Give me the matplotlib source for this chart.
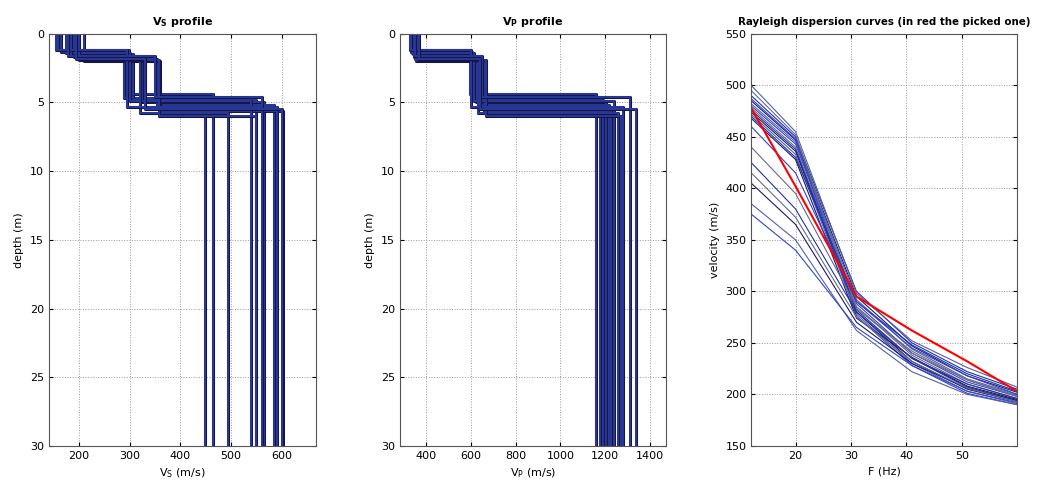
import numpy as np
import matplotlib.pyplot as plt

plt.rcParams['mathtext.default'] = 'regular'

# Layered models: interface depths (m) and velocities (m/s)
z1 = [1.2, 1.3, 1.5, 1.7, 1.8, 2.0, 1.4, 1.6, 1.9, 1.2, 1.6, 1.8]
z2 = [4.4, 4.7, 4.8, 5.0, 5.2, 5.6, 4.9, 5.8, 6.0, 5.3, 4.6, 5.5]
vs1 = [155, 165, 180, 190, 200, 210, 175, 185, 200, 160, 178, 195]
vs2 = [298, 290, 306, 325, 355, 360, 300, 320, 358, 295, 350, 330]
vs3 = [465, 448, 550, 564, 584, 602, 539, 493, 550, 590, 560, 600]
vp1 = [330, 335, 340, 345, 350, 355, 338, 348, 362, 332, 352, 368]
vp2 = [598, 605, 612, 625, 640, 660, 615, 630, 668, 600, 650, 640]
vp3 = [1160, 1175, 1190, 1205, 1215, 1225, 1240, 1255, 1270, 1280, 1310, 1335]
max_depth = 30

# Rayleigh dispersion curves
freq = [12, 20, 31, 41, 51, 60]
curves = [
    [490, 450, 300, 250, 222, 205],
    [485, 447, 295, 247, 218, 202],
    [482, 445, 292, 244, 215, 200],
    [480, 443, 288, 240, 212, 198],
    [478, 440, 285, 238, 210, 196],
    [476, 438, 282, 235, 207, 194],
    [474, 436, 280, 232, 205, 193],
    [472, 433, 278, 230, 203, 191],
    [487, 448, 276, 228, 201, 190],
    [495, 452, 283, 242, 214, 199],
    [470, 430, 290, 248, 220, 203],
    [468, 428, 274, 236, 208, 195],
    [500, 455, 298, 252, 226, 207],
    [460, 415, 290, 245, 218, 200],
    [440, 395, 285, 240, 214, 198],
    [425, 380, 280, 235, 210, 196],
    [405, 365, 270, 230, 206, 194],
    [385, 350, 262, 222, 200, 190],
    [375, 340, 265, 228, 203, 192],
    [415, 372, 275, 232, 206, 193],
]
picked = [478, 402, 295, 262, 232, 203]

curve_colors = ['#2233aa', '#1a1a6e', '#5560a0', '#3344cc', '#6a6a8a']
prof_color = '#2b3b9c'

fig = plt.figure(figsize=(10.39, 4.90), dpi=100)
ax1 = fig.add_axes([0.047, 0.090, 0.257, 0.841])
ax2 = fig.add_axes([0.385, 0.090, 0.256, 0.841])
ax3 = fig.add_axes([0.723, 0.090, 0.256, 0.841])


def step_profile(ax, v1, v2, v3):
    for i in range(len(z1)):
        d = [0, z1[i], z1[i], z2[i], z2[i], max_depth]
        v = [v1[i], v1[i], v2[i], v2[i], v3[i], v3[i]]
        ax.plot(v, d, color='#15154a', lw=2.2)
        ax.plot(v, d, color=prof_color, lw=1.3)


step_profile(ax1, vs1, vs2, vs3)
step_profile(ax2, vp1, vp2, vp3)

for i, c in enumerate(curves):
    ax3.plot(freq, c, color=curve_colors[i % len(curve_colors)], lw=0.8)
ax3.plot(freq, picked, color='red', lw=1.5)

for ax in (ax1, ax2):
    ax.set_ylim(max_depth, 0)
    ax.set_yticks([0, 5, 10, 15, 20, 25, 30])
    ax.set_ylabel('depth (m)', fontsize=8)

ax1.set_xlim(141, 667)
ax1.set_xticks([200, 300, 400, 500, 600])
ax1.set_xlabel('V$_S$ (m/s)', fontsize=8)
ax1.set_title('V$_S$ profile', fontsize=8, fontweight='bold')

ax2.set_xlim(284, 1471)
ax2.set_xticks([400, 600, 800, 1000, 1200, 1400])
ax2.set_xlabel('V$_P$ (m/s)', fontsize=8)
ax2.set_title('V$_P$ profile', fontsize=8, fontweight='bold')

ax3.set_xlim(12, 60)
ax3.set_ylim(150, 550)
ax3.set_xticks([20, 30, 40, 50])
ax3.set_yticks([150, 200, 250, 300, 350, 400, 450, 500, 550])
ax3.set_xlabel('F (Hz)', fontsize=8)
ax3.set_ylabel('velocity (m/s)', fontsize=8)
ax3.set_title('Rayleigh dispersion curves (in red the picked one)', fontsize=7.4, fontweight='bold')

for ax in (ax1, ax2, ax3):
    ax.grid(True, linestyle=':', color='#999999', lw=0.7)
    ax.tick_params(direction='in', top=True, right=True, labelsize=8, length=3)
    for s in ax.spines.values():
        s.set_color('#555555')

fig.savefig('out.png', dpi=100)
